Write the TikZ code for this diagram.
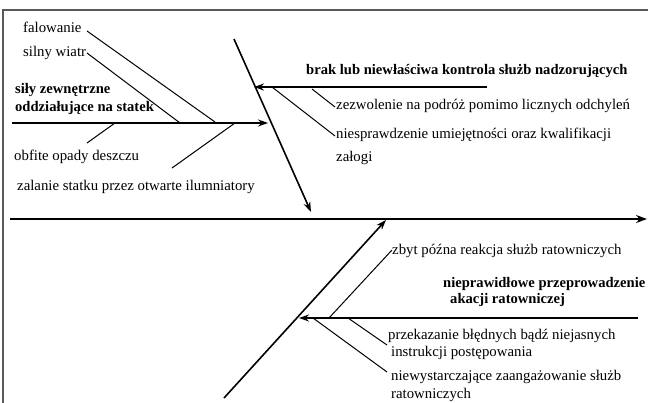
\documentclass[tikz,border=0pt]{standalone}
\usepackage{fontspec}
\setmainfont{Liberation Serif}
\usetikzlibrary{arrows.meta}
\begin{document}
\begin{tikzpicture}[x=1pt,y=-1pt,
  lbl/.style={anchor=base west,inner sep=0pt,font=\fontsize{14.8}{17}\selectfont},
  blbl/.style={lbl,font=\fontsize{14.6}{17}\selectfont\bfseries},
  spine/.style={line width=2pt,-{Stealth[length=11pt,width=8pt]}},
  bone/.style={line width=1.6pt,-{Stealth[length=10pt,width=7pt]}},
  sub/.style={line width=1pt},
  frame/.style={line width=1.5pt,draw=black!65}]
\useasboundingbox (0,0) rectangle (648,403);
% frame
\coordinate (fr1) at (648,10);
\coordinate (fr2) at (3,10);
\coordinate (fr3) at (3,403);
\draw[frame] (fr1) -- (fr2) -- (fr3);
% main spine
\coordinate (s0) at (10,219);
\coordinate (s1) at (647,219);
\draw[spine] (s0) -- (s1);
% upper left branch
\coordinate (a0) at (12,123);
\coordinate (a1) at (268,123);
\draw[bone] (a0) -- (a1);
\node[lbl] (t1) at (23,33) {falowanie};
\node[lbl] (t2) at (23,57) {silny wiatr};
\node[blbl] (t3) at (15,94) {siły zewnętrzne};
\node[blbl] (t4) at (15,112) {oddziałujące na statek};
\node[lbl] (t5) at (14,161) {obfite opady deszczu};
\node[lbl] (t6) at (17,191) {zalanie statku przez otwarte ilumniatory};
\coordinate (f0) at (87,31);  \coordinate (f1) at (215,122);
\coordinate (w0) at (87,53);  \coordinate (w1) at (180,123);
\coordinate (o0) at (87,143); \coordinate (o1) at (115,123);
\coordinate (z0) at (172,168); \coordinate (z1) at (235,123);
\draw[sub] (f0) -- (f1);
\draw[sub] (w0) -- (w1);
\draw[sub] (o0) -- (o1);
\draw[sub] (z0) -- (z1);
% upper diagonal
\coordinate (d0) at (234,39);
\coordinate (d1) at (311,212);
\draw[bone] (d0) -- (d1);
% upper right branch
\coordinate (b0) at (487,87);
\coordinate (b1) at (254,87);
\draw[bone] (b0) -- (b1);
\node[blbl] (t7) at (306,75) {brak lub niewłaściwa kontrola służb nadzorujących};
\node[lbl] (t8) at (336,110) {zezwolenie na podróż pomimo licznych odchyleń};
\node[lbl] (t9) at (336,139) {niesprawdzenie umiejętności oraz kwalifikacji};
\node[lbl] (t10) at (336,162) {załogi};
\coordinate (p0) at (312,89); \coordinate (p1) at (335,107);
\coordinate (q0) at (272,87); \coordinate (q1) at (335,136);
\draw[sub] (p0) -- (p1);
\draw[sub] (q0) -- (q1);
% lower diagonal
\coordinate (e0) at (224,398);
\coordinate (e1) at (386,220);
\draw[bone] (e0) -- (e1);
% lower right branch
\coordinate (c0) at (638,318);
\coordinate (c1) at (299,318);
\draw[bone] (c0) -- (c1);
\node[lbl] (t11) at (392,255) {zbyt późna reakcja służb ratowniczych};
\node[blbl] (t12) at (443,288) {nieprawidłowe przeprowadzenie};
\node[blbl] (t13) at (450,304) {akacji ratowniczej};
\node[lbl] (t14) at (388,340) {przekazanie błędnych bądź niejasnych};
\node[lbl] (t15) at (391,356) {instrukcji postępowania};
\node[lbl] (t16) at (391,381) {niewystarczające zaangażowanie służb};
\node[lbl] (t17) at (391,398) {ratowniczych};
\coordinate (r0) at (329,318); \coordinate (r1) at (392,250);
\coordinate (u0) at (348,318); \coordinate (u1) at (387,345);
\coordinate (v0) at (313,318); \coordinate (v1) at (387,372);
\draw[sub] (r0) -- (r1);
\draw[sub] (u0) -- (u1);
\draw[sub] (v0) -- (v1);
\end{tikzpicture}
\end{document}
